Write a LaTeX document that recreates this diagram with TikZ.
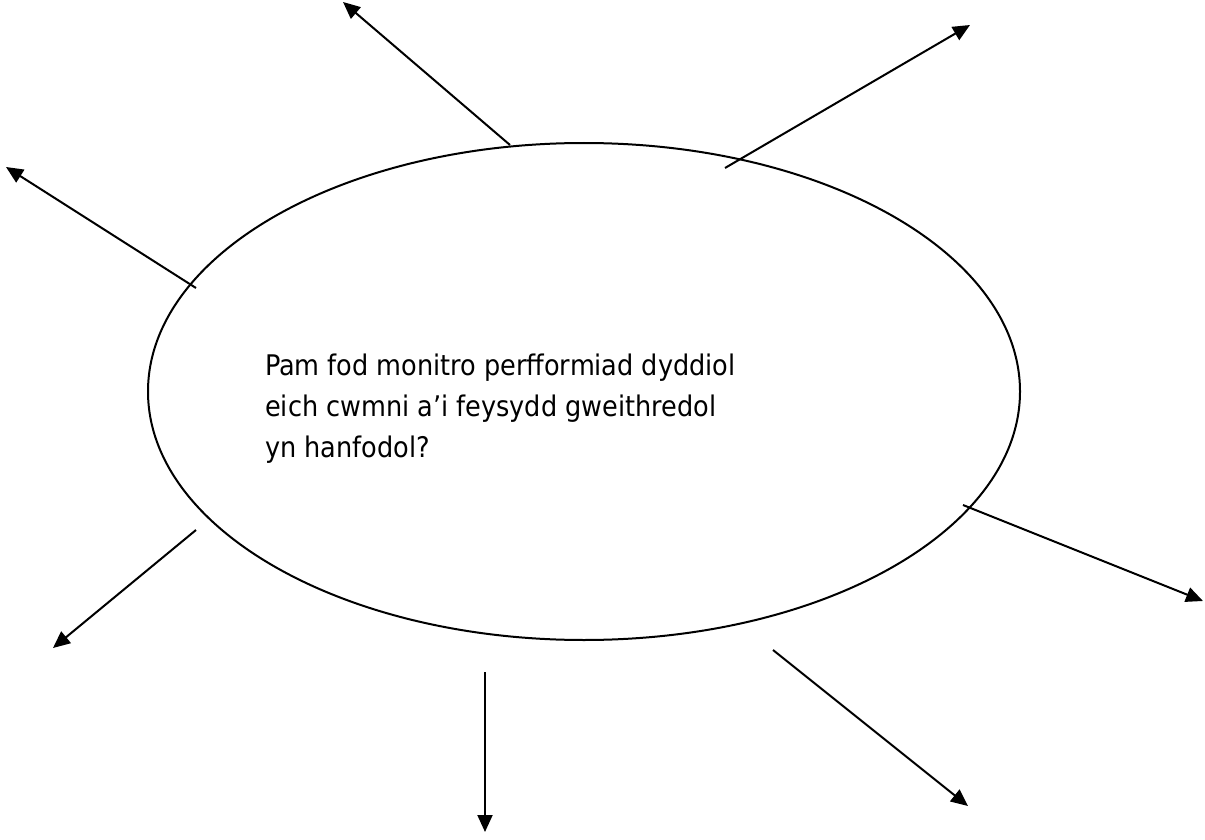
\documentclass[tikz,border=0pt]{standalone}
\usepackage{fontspec}
\setmainfont{DejaVu Sans Condensed}
\usetikzlibrary{arrows.meta,shapes.geometric}
\begin{document}
\begin{tikzpicture}[x=1pt,y=-1pt,
  conn/.style={line width=2pt,-{Triangle[length=17pt,width=15pt]}},
  bubble/.style={draw,line width=2pt,ellipse,minimum width=872pt,minimum height=497pt,inner sep=0pt},
  label/.style={align=left,font=\fontsize{28.4}{41}\selectfont,inner sep=0pt,anchor=north west}]
\useasboundingbox (0,0) rectangle (1205,840);
\node[bubble] (E) at (584,391.5) {};
\node[label] (T) at (265,354) {Pam fod monitro perfformiad dyddiol\\eich cwmni a’i feysydd gweithredol\\yn hanfodol?};
\coordinate (s1) at (510,145); \coordinate (e1) at (343,2);
\coordinate (s2) at (725,168); \coordinate (e2) at (970,25);
\coordinate (s3) at (196,288); \coordinate (e3) at (6,167);
\coordinate (s4) at (963,505); \coordinate (e4) at (1203,601);
\coordinate (s5) at (196,530); \coordinate (e5) at (53,648);
\coordinate (s6) at (485,672); \coordinate (e6) at (485,832);
\coordinate (s7) at (773,650); \coordinate (e7) at (968,806);
\foreach \i in {1,...,7} \draw[conn] (s\i) -- (e\i);
\end{tikzpicture}
\end{document}
